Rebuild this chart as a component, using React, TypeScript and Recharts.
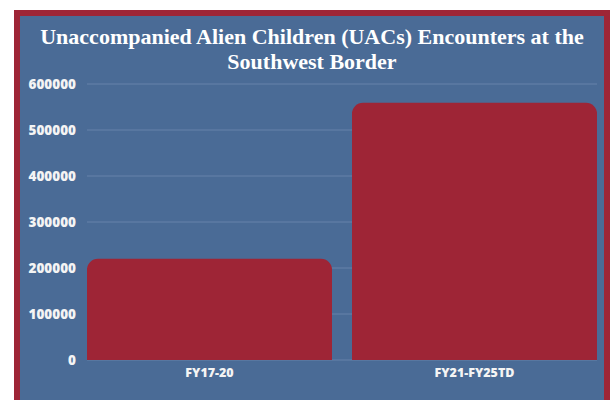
import React from "react"
import { BarChart, Bar, XAxis, YAxis, CartesianGrid } from "recharts"

const periods = ["FY17-20", "FY21-FY25TD"]
const encounters = [220000, 559000]
const yTicks = [0, 100000, 200000, 300000, 400000, 500000, 600000]

const data = periods.map((period, i) => ({ period, encounters: encounters[i] }))

const RED = "#9e2536"
const BLUE = "#4a6b96"

export default function App() {
  return (
    <div style={{ position: "absolute", left: 0, top: 0, width: 613, height: 400, background: "#fff", overflow: "hidden" }}>
      <div
        style={{
          position: "absolute",
          left: 14,
          top: 10,
          width: 584,
          height: 400,
          border: `6px solid ${RED}`,
          background: BLUE,
        }}
      >
        <div
          style={{
            position: "absolute",
            left: 0,
            top: 8,
            width: 584,
            textAlign: "center",
            color: "#fff",
            fontFamily: "'Liberation Serif', serif",
            fontWeight: 700,
            fontSize: 22,
            lineHeight: "25px",
          }}
        >
          Unaccompanied Alien Children (UACs) Encounters at the
          <br />
          Southwest Border
        </div>
        <div style={{ position: "absolute", left: 0, top: 0 }}>
          <BarChart
            width={584}
            height={384}
            data={data}
            margin={{ top: 68, right: 7, left: 0, bottom: 10 }}
            barCategoryGap={10}
          >
            <CartesianGrid vertical={false} stroke="#6683aa" strokeWidth={1} />
            <XAxis
              dataKey="period"
              height={30}
              padding={{ left: -10, right: -10 }}
              axisLine={false}
              tickLine={false}
              tickSize={0}
              tickMargin={8}
              tick={{ fill: "#f4f4f4", fontSize: 12.5, fontWeight: 800, fontFamily: "'Open Sans', sans-serif" }}
            />
            <YAxis
              width={67}
              domain={[0, 600000]}
              ticks={yTicks}
              axisLine={false}
              tickLine={false}
              tickSize={0}
              tickMargin={11}
              tick={{ fill: "#f4f4f4", fontSize: 13.5, fontWeight: 800, fontFamily: "'Open Sans', sans-serif" }}
            />
            <Bar dataKey="encounters" fill={RED} radius={[11, 11, 0, 0]} isAnimationActive={false} />
          </BarChart>
        </div>
      </div>
    </div>
  )
}
